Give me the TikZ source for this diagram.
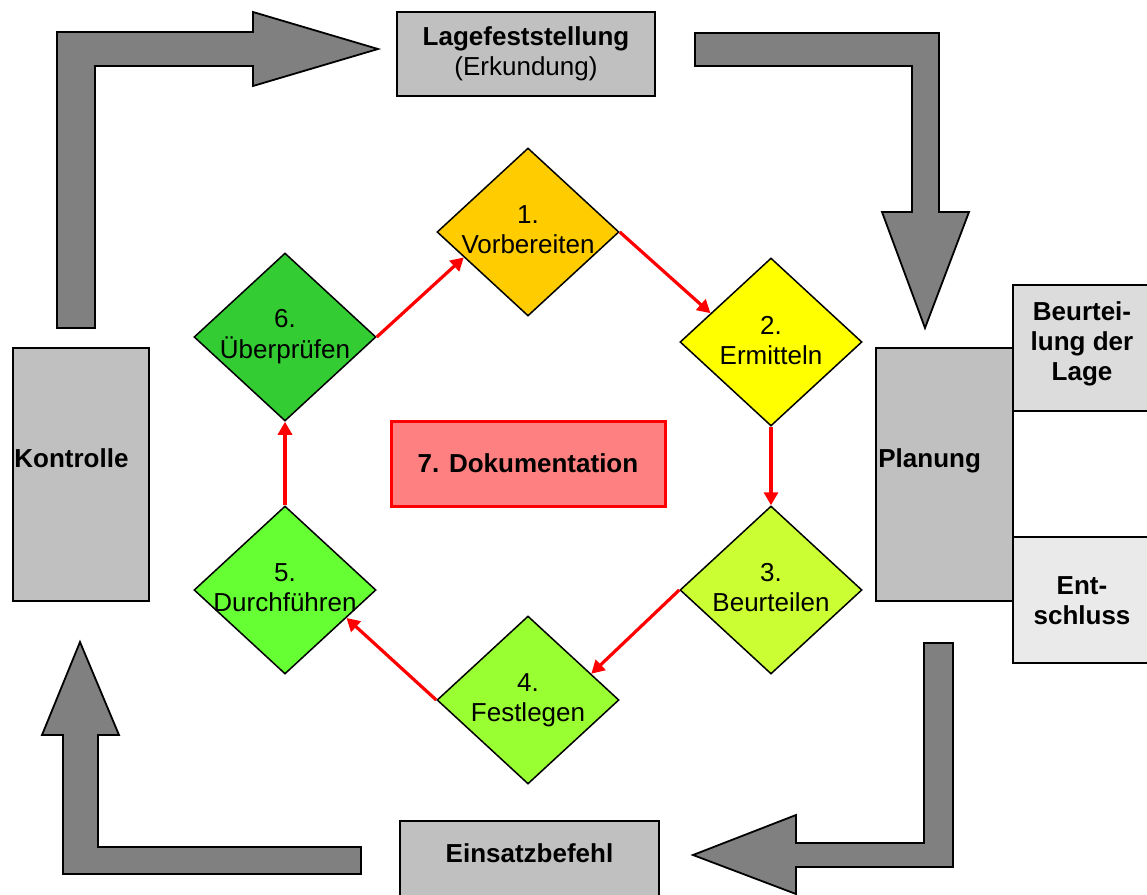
\documentclass[tikz,border=0pt]{standalone}
\usepackage{fontspec}
\setmainfont{Liberation Sans}
\usetikzlibrary{shapes.geometric,arrows.meta,calc}
\definecolor{blockgray}{HTML}{808080}
\definecolor{boxgray}{HTML}{C0C0C0}
\definecolor{boxlight}{HTML}{DCDCDC}
\definecolor{boxlighter}{HTML}{EAEAEA}
\definecolor{cOne}{HTML}{FFCC00}
\definecolor{cTwo}{HTML}{FFFF00}
\definecolor{cThree}{HTML}{CCFF33}
\definecolor{cFour}{HTML}{99FF33}
\definecolor{cFive}{HTML}{66FF33}
\definecolor{cSix}{HTML}{33CC33}
\definecolor{docfill}{HTML}{FF8080}
\tikzset{
  blockarrow/.style={fill=blockgray, draw=black, line width=0.9pt, line join=miter},
  panelbox/.style={draw=black, line width=0.9pt, inner sep=0pt, rectangle},
  diabox/.style={shape=diamond, draw=black, line width=0.75pt, inner sep=0pt,
    minimum width=91pt, minimum height=84pt},
  txt/.style={inner sep=0pt, font=\fontsize{13}{15}\selectfont},
  boldtxt/.style={inner sep=0pt, font=\fontsize{13}{15}\selectfont\bfseries},
  redarrow/.style={draw=red, line width=1.6pt, -{Triangle[length=6.5pt,width=7pt]}},
}
\begin{document}
\begin{tikzpicture}[x=0.5pt,y=-0.5pt]
\useasboundingbox (0,0) rectangle (1147,895);

% block arrows
\draw[blockarrow] (57,328) -- (57,32) -- (253,32) -- (253,12) -- (378,49) -- (253,86) -- (253,66) -- (95,66) -- (95,328) -- cycle;
\draw[blockarrow] (695,33) -- (939,33) -- (939,212) -- (969,212) -- (925,328) -- (882,212) -- (912,212) -- (912,66) -- (695,66) -- cycle;
\draw[blockarrow] (924,643) -- (953,643) -- (953,867) -- (796,867) -- (796,894) -- (693,855) -- (796,815) -- (796,843) -- (924,843) -- cycle;
\draw[blockarrow] (361,874) -- (63,874) -- (63,735) -- (42,735) -- (80,642) -- (119,735) -- (98,735) -- (98,847) -- (361,847) -- cycle;

% boxes
\node[panelbox, fill=boxgray, minimum width=129pt, minimum height=42pt] (lage) at (526,54) {};
\node[txt, anchor=base] (lagetext) at (526,45) {\begin{tabular}[t]{@{}c@{}}\textbf{Lagefeststellung}\\(Erkundung)\end{tabular}};

\node[panelbox, fill=boxgray, minimum width=68pt, minimum height=126.5pt] (kon) at (81,474.5) {};
\node[boldtxt, anchor=base west] (kontext) at (14,467) {Kontrolle};

\node[panelbox, fill=boxgray, minimum width=68.5pt, minimum height=126.5pt] (plan) at (944.5,474.5) {};
\node[boldtxt, anchor=base west] (plantext) at (878,467) {Planung};

\node[panelbox, fill=boxlight, minimum width=69pt, minimum height=63pt] (beur) at (1082,348) {};
\node[boldtxt, anchor=center] (beurtext) at (1082,344) {\begin{tabular}{@{}c@{}}Beurtei-\\lung der\\Lage\end{tabular}};

\node[panelbox, fill=boxlighter, minimum width=69pt, minimum height=63pt] (ent) at (1082,600) {};
\node[boldtxt, anchor=center] (enttext) at (1082,603) {\begin{tabular}{@{}c@{}}Ent-\\schluss\end{tabular}};

\node[panelbox, fill=boxgray, minimum width=129.5pt, minimum height=42pt] (eins) at (529.5,863) {};
\node[boldtxt, anchor=base] (einstext) at (529.5,862) {Einsatzbefehl};

\node[draw=red, line width=1.5pt, fill=docfill, inner sep=0pt, minimum width=137pt, minimum height=42.5pt, font=\fontsize{13}{15}\selectfont\bfseries] (doc) at (528,463.5) {7. Dokumentation};

% diamonds
\node[diabox, fill=cOne] (d1) at (528,232) {};
\node[diabox, fill=cTwo] (d2) at (771,342) {};
\node[diabox, fill=cThree] (d3) at (771,590) {};
\node[diabox, fill=cFour] (d4) at (528,700) {};
\node[diabox, fill=cFive] (d5) at (285,590) {};
\node[diabox, fill=cSix] (d6) at (285,337) {};

\node[txt, anchor=base] (t1) at (528,253) {\begin{tabular}[b]{@{}c@{}}1.\\Vorbereiten\end{tabular}};
\node[txt, anchor=base] (t2) at (771,364) {\begin{tabular}[b]{@{}c@{}}2.\\Ermitteln\end{tabular}};
\node[txt, anchor=base] (t3) at (771,611) {\begin{tabular}[b]{@{}c@{}}3.\\Beurteilen\end{tabular}};
\node[txt, anchor=base] (t4) at (528,721) {\begin{tabular}[b]{@{}c@{}}4.\\Festlegen\end{tabular}};
\node[txt, anchor=base] (t5) at (285,611) {\begin{tabular}[b]{@{}c@{}}5.\\Durchführen\end{tabular}};
\node[txt, anchor=base] (t6) at (285,358) {\begin{tabular}[b]{@{}c@{}}6.\\Überprüfen\end{tabular}};

% red connectors
\coordinate (e1) at ($(d1.west)!0.3!(d1.south)$);
\coordinate (e2) at ($(d2.west)!0.34!(d2.north)$);
\coordinate (e4) at ($(d4.east)!0.31!(d4.north)$);
\coordinate (e5) at ($(d5.east)!0.33!(d5.south)$);
\draw[redarrow] (d6.east) -- (e1);
\draw[redarrow] (d1.east) -- (e2);
\draw[redarrow] (d2.south) -- (d3.north);
\draw[redarrow] (d3.west) -- (e4);
\draw[redarrow] (d4.west) -- (e5);
\draw[redarrow] (d5.north) -- (d6.south);
\end{tikzpicture}
\end{document}
